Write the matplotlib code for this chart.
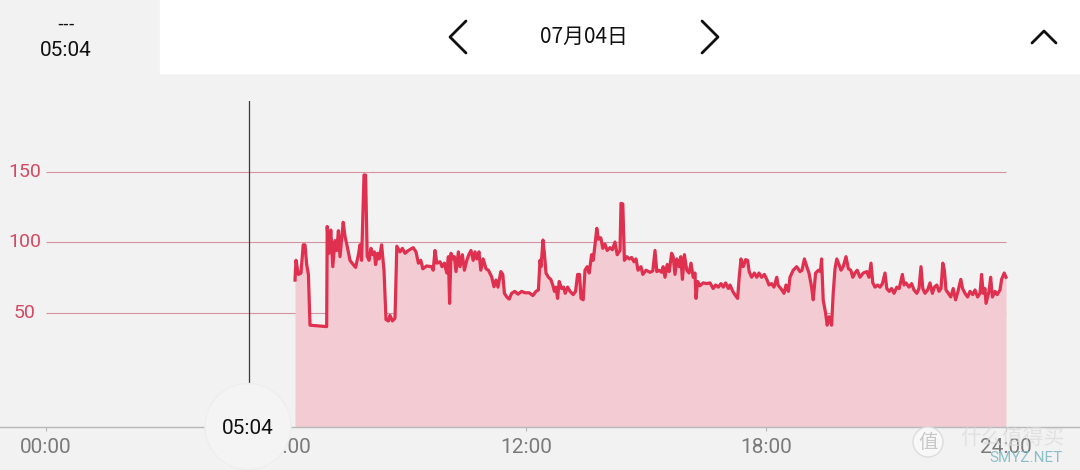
import numpy as np
import matplotlib.pyplot as plt
from matplotlib.patches import Rectangle, Circle
from matplotlib.lines import Line2D

# heart rate, 07月04日 (hours of the day, bpm)
hours = [6.225, 6.25, 6.31, 6.375, 6.43, 6.475, 6.517, 6.56, 6.6, 7.017,
         7.03, 7.075, 7.12, 7.17, 7.225, 7.27, 7.31, 7.35, 7.43, 7.475,
         7.53, 7.6, 7.68, 7.74, 7.81, 7.85, 7.89, 7.95, 7.99, 8.03,
         8.075, 8.125, 8.17, 8.21, 8.24, 8.29, 8.33, 8.39, 8.45, 8.5,
         8.56, 8.6, 8.66, 8.725, 8.77, 8.85, 8.91, 8.975, 9.06, 9.18,
         9.25, 9.31, 9.37, 9.42, 9.517, 9.64, 9.68, 9.725, 9.77, 9.85,
         9.9, 9.96, 10.02, 10.06, 10.09, 10.125, 10.17, 10.21, 10.25, 10.31,
         10.35, 10.41, 10.46, 10.52, 10.57, 10.625, 10.68, 10.725, 10.77, 10.825,
         10.87, 10.93, 11.0, 11.06, 11.14, 11.2, 11.25, 11.3, 11.37, 11.42,
         11.46, 11.52, 11.58, 11.64, 11.72, 11.8, 11.89, 11.975, 12.08, 12.17,
         12.25, 12.31, 12.35, 12.375, 12.425, 12.46, 12.5, 12.56, 12.62, 12.67,
         12.71, 12.75, 12.79, 12.83, 12.89, 12.94, 12.98, 13.04, 13.1, 13.18,
         13.24, 13.29, 13.34, 13.375, 13.43, 13.475, 13.53, 13.58, 13.64, 13.68,
         13.725, 13.77, 13.81, 13.87, 13.92, 13.975, 14.03, 14.1, 14.16, 14.225,
         14.28, 14.35, 14.375, 14.42, 14.46, 14.52, 14.58, 14.64, 14.7, 14.75,
         14.8, 14.875, 14.92, 15.0, 15.1, 15.17, 15.225, 15.27, 15.33, 15.39,
         15.43, 15.475, 15.53, 15.58, 15.64, 15.68, 15.725, 15.77, 15.825, 15.87,
         15.91, 15.96, 16.02, 16.075, 16.125, 16.18, 16.225, 16.25, 16.29, 16.35,
         16.43, 16.52, 16.6, 16.68, 16.74, 16.81, 16.875, 16.93, 16.99, 17.06,
         17.1, 17.17, 17.22, 17.29, 17.33, 17.375, 17.43, 17.49, 17.54, 17.58,
         17.64, 17.71, 17.77, 17.825, 17.89, 17.96, 18.02, 18.075, 18.14, 18.2,
         18.27, 18.3, 18.37, 18.45, 18.5, 18.56, 18.6, 18.68, 18.766, 18.85,
         18.9, 18.96, 19.02, 19.075, 19.14, 19.18, 19.24, 19.31, 19.36, 19.39,
         19.43, 19.49, 19.53, 19.58, 19.64, 19.68, 19.725, 19.77, 19.825, 19.875,
         19.93, 20.0, 20.06, 20.12, 20.17, 20.225, 20.28, 20.35, 20.43, 20.52,
         20.575, 20.625, 20.67, 20.725, 20.79, 20.85, 20.91, 20.975, 21.02, 21.08,
         21.14, 21.2, 21.27, 21.33, 21.41, 21.45, 21.5, 21.575, 21.64, 21.7,
         21.77, 21.825, 21.875, 21.92, 21.975, 22.04, 22.1, 22.16, 22.21, 22.27,
         22.325, 22.375, 22.42, 22.46, 22.5, 22.56, 22.62, 22.68, 22.74, 22.8,
         22.87, 22.915, 22.975, 23.04, 23.1, 23.17, 23.225, 23.29, 23.35, 23.39,
         23.43, 23.475, 23.5, 23.575, 23.616, 23.66, 23.725, 23.78, 23.85, 23.89,
         23.955, 24.0]
bpm = [73, 87, 77, 78, 98, 98, 84, 77, 41, 40,
       111, 92, 108.5, 82.5, 101, 94, 108, 89.6, 114, 104,
       97, 87, 84, 82, 91, 98, 87, 147.5, 147.5, 90,
       87, 95.5, 91, 93, 84, 92, 88, 98, 80, 45,
       44, 48, 44, 46, 97, 93, 95.5, 92, 94, 96,
       93, 85, 87, 81, 83, 82.5, 80, 94, 85, 86,
       82.5, 85, 78, 89.6, 56.5, 92, 88, 89.6, 79, 93,
       82.5, 91, 80, 87, 91, 94, 87, 93, 88, 93,
       80, 88, 81, 80, 75.4, 68.3, 73, 68, 79, 77,
       63.6, 61, 59.5, 63.6, 65, 63, 65, 64, 64, 62,
       65, 66, 87, 82.5, 101.4, 92, 78, 75, 73.5, 69.5,
       65, 68, 60, 72, 67, 68, 63.6, 68, 65, 62.7,
       65, 77, 77, 60, 59, 80, 82.5, 78, 91, 87,
       98, 109.7, 102, 103, 95.5, 98.5, 94, 96, 94.5, 100,
       91, 94, 127.4, 127, 87, 89.6, 88, 89, 86, 88,
       80, 82.5, 77, 80, 78.5, 79.5, 94, 79, 80, 78.5,
       82.5, 75, 84, 79, 92, 89.6, 77, 88, 82.5, 89.6,
       73.5, 91, 80, 78, 85, 75, 78, 60, 72, 69,
       71, 70.5, 71, 67, 69.5, 68, 70.5, 68, 71, 67,
       69.5, 65, 62.7, 60, 75, 88, 82.5, 87.5, 87, 79,
       75, 78, 75, 78, 75, 77, 73.5, 69.5, 70.5, 68,
       75, 69.5, 67, 63.6, 69.5, 65, 75, 80, 82.5, 79,
       80, 88, 82.5, 78, 68, 59, 78, 80, 79, 88,
       59, 49.5, 41, 47, 41, 63.6, 81, 88, 84, 80,
       82.5, 89.6, 81, 80, 75, 78, 80, 75, 78, 79,
       75, 85, 71, 68, 69.5, 68, 70.5, 78, 67, 65,
       67, 63.6, 68, 67, 77, 69.5, 71, 68, 70.5, 66,
       63.6, 67, 82.5, 67, 63.6, 66, 71, 63.6, 68, 69.5,
       65, 67, 85, 80, 66, 63.6, 61, 67, 59, 65,
       73.5, 67, 63.6, 61, 65, 62.7, 66, 61, 63.6, 77,
       63.6, 67, 56.5, 65, 75, 61, 65, 62.7, 66, 73.5,
       78, 75]

grid_levels = [50, 100, 150]
tick_hours = [0, 6, 12, 18, 24]
tick_labels = ['00:00', '06:00', '12:00', '18:00', '24:00']
cursor_hour = 5 + 4 / 60
cursor_label = '05:04'
date_label = '07月04日'

bg = '#f2f2f2'
red = '#e0304f'
fill = '#f2cbd3'

plt.rcParams['font.family'] = ['Roboto', 'Noto Sans CJK SC', 'DejaVu Sans']

fig = plt.figure(figsize=(10.8, 4.7), dpi=100, facecolor=bg)
ax = fig.add_axes([0, 43 / 470, 1, 326 / 470])
ax.set_facecolor(bg)
ax.set_xlim(-1.15, 25.85)
ax.set_ylim(-31.2, 200)

ax.hlines(grid_levels, 0, 24, color='#d4949f', lw=0.8, zorder=1)
for v in grid_levels:
    ax.text(-0.53, v, str(v), ha='center', va='center', fontsize=14, color='#d44a63')

ax.fill_between(hours, bpm, -31.2, color=fill, lw=0, zorder=2)
ax.plot(hours, bpm, color=red, lw=2.3, solid_joinstyle='round', zorder=3)

ax.axvline(cursor_hour, color='#3a3a3a', lw=0.9, zorder=4)

for s in ['top', 'left', 'right']:
    ax.spines[s].set_visible(False)
ax.spines['bottom'].set_color('#b8b8b8')
ax.spines['bottom'].set_linewidth(1)
ax.set_yticks([])
ax.set_xticks(tick_hours)
ax.set_xticklabels(tick_labels)
ax.tick_params(axis='x', colors='#b8b8b8', length=3, pad=5, labelsize=15, labelcolor='#7a7a7a')

# cursor bubble
fig.add_artist(Circle((2.48, 0.435), 0.43, transform=fig.dpi_scale_trans,
                      facecolor='#f4f4f4', edgecolor='#eeeeee', lw=1, zorder=5))
fig.text(248 / 1080, 1 - 428 / 470, cursor_label, ha='center', va='center',
         fontsize=15, color='#111111', zorder=6)

# header
fig.add_artist(Rectangle((160 / 1080, 1 - 73 / 470), 920 / 1080, 73 / 470,
                         transform=fig.transFigure, color='white', zorder=1))
fig.text(66 / 1080, 1 - 24 / 470, '---', ha='center', va='center', fontsize=12,
         color='#111111', family=['DejaVu Sans'])
fig.text(66 / 1080, 1 - 51 / 470, cursor_label, ha='center', va='center', fontsize=15, color='#111111')
fig.text(584 / 1080, 1 - 37 / 470, date_label, ha='center', va='center', fontsize=15,
         color='#111111', zorder=2, family=['Noto Sans CJK SC', 'DejaVu Sans'])


def chevron(xs, ys):
    fig.add_artist(Line2D([x / 1080 for x in xs], [1 - y / 470 for y in ys],
                          transform=fig.transFigure, color='#111111', lw=2, zorder=2,
                          solid_capstyle='round'))


chevron([466, 450, 466], [21, 37, 53])
chevron([702, 718, 702], [21, 37, 53])
chevron([1032, 1044, 1056], [43, 31, 43])

# watermark
fig.add_artist(Circle((9.28, 0.28), 0.15, transform=fig.dpi_scale_trans,
                      facecolor='#f8f8f8', edgecolor='#dddddd', lw=1, zorder=5))
fig.text(928 / 1080, 1 - 442 / 470, '值', ha='center', va='center', fontsize=14,
         color='#c8c8c8', zorder=6, family=['Noto Sans CJK SC'])
fig.text(1012 / 1080, 1 - 438 / 470, '什么值得买', ha='center', va='center', fontsize=15,
         color='#dadada', alpha=0.7, zorder=6, family=['Noto Sans CJK SC'])
fig.text(1026 / 1080, 1 - 458 / 470, 'SMYZ.NET', ha='center', va='center', fontsize=11,
         color='#7fb9c2', alpha=0.9, zorder=6)

fig.savefig('out.png', dpi=100, facecolor=bg)
